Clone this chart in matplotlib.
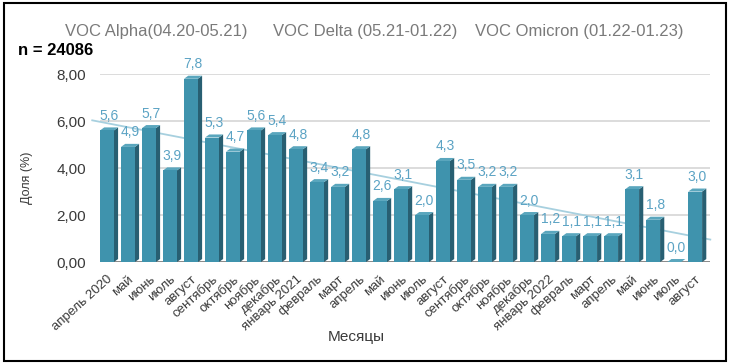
import matplotlib.pyplot as plt
import numpy as np
from matplotlib.patches import Rectangle

months = ['апрель 2020', 'май', 'июнь', 'июль', 'август', 'сентябрь', 'октябрь',
          'ноябрь', 'декабрь', 'январь 2021', 'февраль', 'март', 'апрель', 'май',
          'июнь', 'июль', 'август', 'сентябрь', 'октябрь', 'ноябрь', 'декабрь',
          'январь 2022', 'февраль', 'март', 'апрель', 'май', 'июнь', 'июль', 'август']
share = [5.6, 4.9, 5.7, 3.9, 7.8, 5.3, 4.7, 5.6, 5.4, 4.8, 3.4, 3.2, 4.8, 2.6, 3.1,
         2.0, 4.3, 3.5, 3.2, 3.2, 2.0, 1.2, 1.1, 1.1, 1.1, 3.1, 1.8, 0.0, 3.0]
variants = ['VOC Alpha(04.20-05.21)', 'VOC Delta (05.21-01.22)', 'VOC Omicron (01.22-01.23)']
yticks = [0, 2, 4, 6, 8]

plt.rcParams['font.family'] = ['Liberation Sans', 'DejaVu Sans']

fig = plt.figure(figsize=(7.3, 3.63), dpi=100)
ax = fig.add_axes([0.137, 0.278, 0.836, 0.518])

x = np.arange(len(share))
w = 0.66
dx = 0.2   # depth of the side face
dy = 0.13  # depth of the top face

front = '#3f93ad'
side = '#285f72'
top = '#5aa6bd'

# grid and trend line sit behind the bars
for t in yticks:
    ax.axhline(t, color='#d6d6d6', lw=1.2, zorder=0)
ax.axhline(0, color='#8a8a8a', lw=1.4, zorder=0.5)

left, right = -0.33, 28.72
k, b = np.polyfit(x, share, 1)
tx = np.array([-0.7, right])
ax.plot(tx, k * tx + b, color='#a7d0df', lw=1.3, zorder=1, clip_on=False)

# 3d-looking bars: side, top, then front face
for xi, v in zip(x, share):
    x0 = xi - w / 2
    x1 = xi + w / 2
    ax.fill([x1, x1 + dx, x1 + dx, x1], [0, dy, v + dy, v], color=side, zorder=2, lw=0)
    ax.fill([x0, x0 + dx, x1 + dx, x1], [v, v + dy, v + dy, v], color=top, zorder=2, lw=0)
ax.bar(x, share, width=w, color=front, zorder=3)

for xi, v in zip(x, share):
    ax.text(xi + 0.1, v + 0.32, f'{v:.1f}'.replace('.', ','), ha='center', va='bottom',
            color='#5ba3c4', fontsize=10, zorder=4)

ax.set_xlim(left, right)
ax.set_ylim(0, 8)
ax.set_yticks(yticks)
ax.set_yticklabels([f'{t:.2f}'.replace('.', ',') for t in yticks], fontsize=11, color='#3a3a3a')
ax.set_xticks(x)
ax.set_xticklabels(months, rotation=42, ha='right', rotation_mode='anchor',
                   fontsize=9.5, color='#3a3a3a')
ax.tick_params(axis='y', length=0, pad=10)
ax.tick_params(axis='x', length=0, pad=8)
for s in ax.spines.values():
    s.set_visible(False)
ax.set_ylabel('Доля (%)', fontsize=9, color='#3a3a3a')
ax.yaxis.set_label_coords(-0.11, 0.45)
ax.set_xlabel('Месяцы', fontsize=11, color='#3a3a3a')
ax.xaxis.set_label_coords(0.42, -0.36)

# variant periods across the top
for xpos, txt in zip([0.089, 0.374, 0.651], variants):
    fig.text(xpos, 0.912, txt, fontsize=12, color='#7a7a7a', va='center')
fig.text(0.024, 0.862, 'n = 24086', fontsize=12, fontweight='bold', va='center')

# frame round the whole figure
fig.patches.append(Rectangle((0.006, 0.005), 0.988, 0.987, transform=fig.transFigure,
                             fill=False, edgecolor='black', lw=1.5))

plt.savefig('out.png', dpi=100)
